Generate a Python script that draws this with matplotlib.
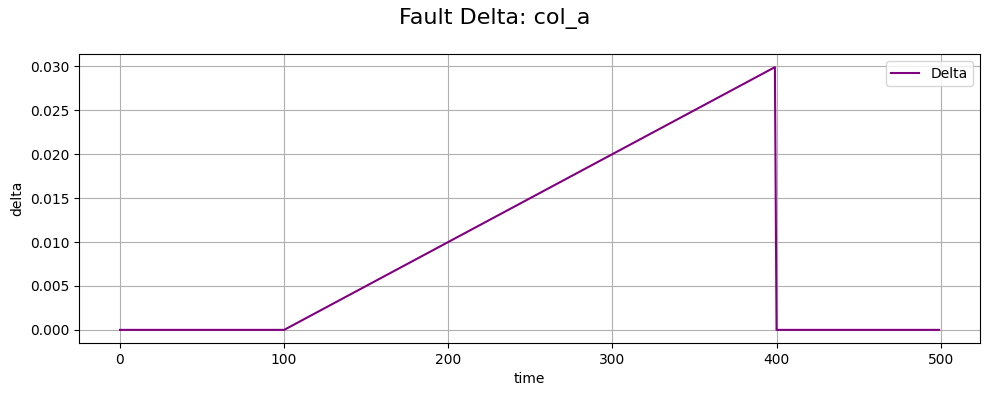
import matplotlib
matplotlib.use('Agg')
import matplotlib.pyplot as plt

# corner points of the delta curve (straight segments between them)
time = [0, 100, 399, 400, 499]
delta = [0.0, 0.0, 0.0299, 0.0, 0.0]
col_name = 'col_a'

fig, ax = plt.subplots(figsize=(9.89, 3.96), dpi=100)
ax.plot(time, delta, color='purple', label='Delta')
ax.set_xlabel('time')
ax.set_ylabel('delta')
ax.grid(True)
ax.legend(loc='upper right')
fig.suptitle(f'Fault Delta: {col_name}', fontsize=16)
fig.subplots_adjust(left=0.0799, right=0.9909, top=0.8636, bottom=0.1338)
fig.savefig('out.png', dpi=100)
plt.close()
